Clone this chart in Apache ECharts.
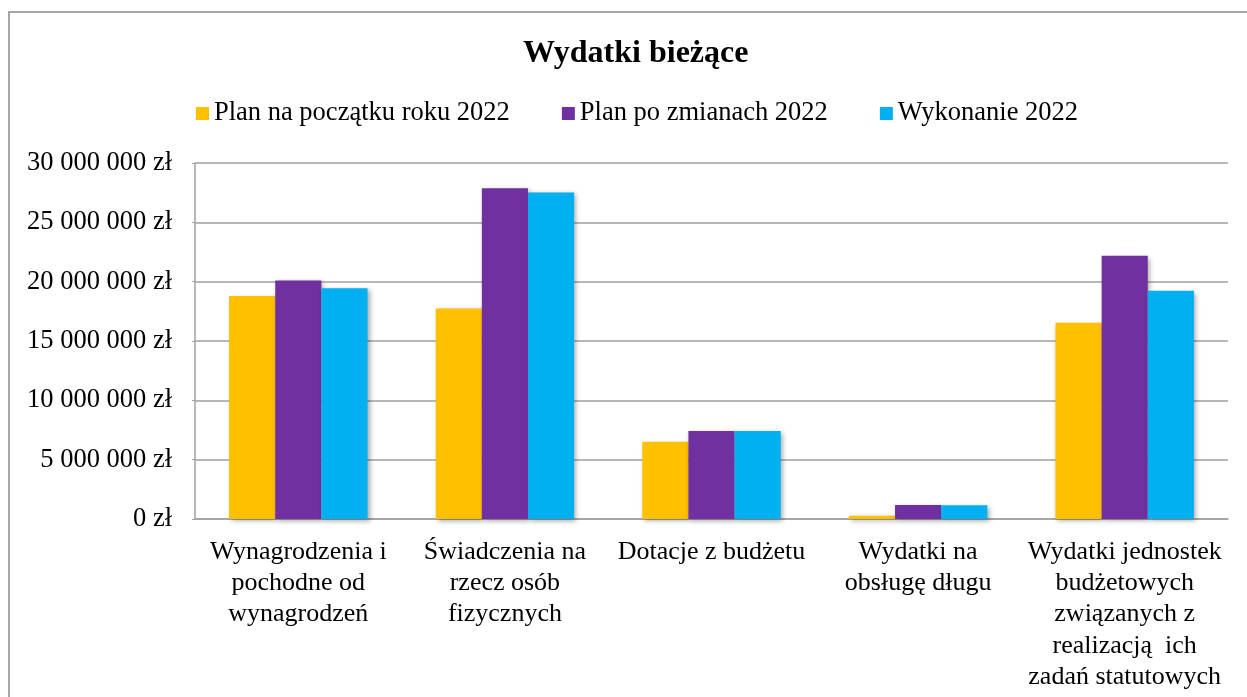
<!DOCTYPE html>
<html>
<head>
<meta charset="utf-8">
<script src="https://cdn.jsdelivr.net/npm/echarts@6/dist/echarts.min.js"></script>
<style>
    html, body { margin: 0; padding: 0; background: #fff; }
    #chart { width: 1247px; height: 697px; }
</style>
</head>
<body>
<div id="chart"></div>
<script>
var categories = [
    'Wynagrodzenia i\npochodne od\nwynagrodzeń',
    'Świadczenia na\nrzecz osób\nfizycznych',
    'Dotacje z budżetu',
    'Wydatki na\nobsługę długu',
    'Wydatki jednostek\nbudżetowych\nzwiązanych z\nrealizacją  ich\nzadań statutowych'
];
var seriesNames = ['Plan na początku roku 2022', 'Plan po zmianach 2022', 'Wykonanie 2022'];
var planStart = [18800000, 17740000, 6520000, 280000, 16540000];
var planChanged = [20100000, 27880000, 7410000, 1180000, 22180000];
var execution = [19450000, 27520000, 7410000, 1150000, 19230000];
var colors = ['#FFC000', '#7030A0', '#00B0F0'];

var font = "'Liberation Serif', 'Times New Roman', serif";

function formatZl(value) {
    var s = String(Math.round(value));
    s = s.replace(/\B(?=(\d{3})+(?!\d))/g, ' ');
    return s + ' zł';
}

function barSeries(name, data) {
    return {
        name: name,
        type: 'bar',
        data: data,
        barGap: 0,
        barCategoryGap: '33%',
        itemStyle: {
            shadowColor: 'rgba(0,0,0,0.35)',
            shadowBlur: 5,
            shadowOffsetX: 2,
            shadowOffsetY: 2
        }
    };
}

var myChart = echarts.init(document.getElementById('chart'));
var option = {
    animation: false,
    color: colors,
    textStyle: {
        fontFamily: font
    },
    title: {
        text: 'Wydatki bieżące',
        left: 518,
        top: 33,
        textStyle: {
            fontFamily: font,
            fontSize: 32,
            fontWeight: 'bold',
            color: '#000'
        }
    },
    legend: {
        data: seriesNames,
        top: 95,
        left: 191,
        itemWidth: 13,
        itemHeight: 13,
        itemGap: 52,
        icon: 'rect',
        textStyle: {
            fontFamily: font,
            fontSize: 26.5,
            color: '#000'
        }
    },
    grid: {
        left: 195,
        right: 19,
        top: 163,
        bottom: 178
    },
    xAxis: [
        {
            type: 'category',
            data: categories,
            axisLine: {
                lineStyle: {color: '#a0a0a0', width: 1.5}
            },
            axisTick: {show: false},
            axisLabel: {
                interval: 0,
                margin: 17,
                fontFamily: font,
                fontSize: 26,
                lineHeight: 31.4,
                color: '#000',
                align: 'center'
            }
        }
    ],
    yAxis: [
        {
            type: 'value',
            min: 0,
            max: 30000000,
            interval: 5000000,
            axisLine: {
                show: true,
                lineStyle: {color: '#a0a0a0', width: 1.5}
            },
            axisTick: {
                show: true,
                length: 3,
                lineStyle: {color: '#a0a0a0'}
            },
            splitLine: {
                lineStyle: {color: '#a0a0a0', width: 1.5}
            },
            axisLabel: {
                margin: 23,
                fontFamily: font,
                fontSize: 26.5,
                color: '#000',
                formatter: formatZl
            }
        }
    ],
    series: [
        barSeries(seriesNames[0], planStart),
        barSeries(seriesNames[1], planChanged),
        barSeries(seriesNames[2], execution)
    ],
    graphic: [
        {
            type: 'rect',
            silent: true,
            shape: {x: 9, y: 12, width: 1400, height: 900},
            style: {fill: 'none', stroke: '#a6a6a6', lineWidth: 2}
        }
    ]
};
myChart.setOption(option);
</script>
</body>
</html>
